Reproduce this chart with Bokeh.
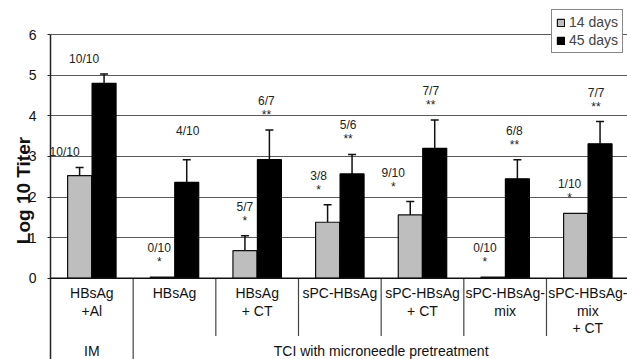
from bokeh.plotting import figure
from bokeh.models import (Range1d, FixedTicker, Span, Legend, LegendItem,
                          ColumnDataSource, Whisker, TeeHead)
from bokeh.core.properties import value
from bokeh.embed import file_html
from bokeh.resources import INLINE

# ---- data ----
categories = ["HBsAg\n+Al", "HBsAg", "HBsAg\n+ CT", "sPC-HBsAg", "sPC-HBsAg\n+ CT",
              "sPC-HBsAg-\nmix", "sPC-HBsAg-\nmix\n+ CT"]
titer_14 = [2.53, 0.03, 0.68, 1.38, 1.56, 0.03, 1.60]
err_14 = [0.20, 0.0, 0.37, 0.43, 0.33, 0.0, 0.0]
titer_45 = [4.80, 2.36, 2.92, 2.57, 3.20, 2.45, 3.31]
err_45 = [0.23, 0.56, 0.73, 0.48, 0.70, 0.47, 0.55]
resp_14 = ["10/10", "0/10", "5/7", "3/8", "9/10", "0/10", "1/10"]
stars_14 = ["", "*", "*", "*", "*", "*", "*"]
resp_45 = ["10/10", "4/10", "6/7", "5/6", "7/7", "6/8", "7/7"]
stars_45 = ["", " ", "**", "**", "**", "**", "**"]
y_ticks = [0, 1, 2, 3, 4, 5, 6]
groups = ["IM", "TCI with microneedle pretreatment"]

# label horizontal nudges (px), as placed in the original
dx_14 = [-15, -3, 0, -9, -17, -8, -6]
dx_45 = [-20, 1, -3, -4, -4, -3, -4]

FONT = "Liberation Sans"
GRAY = "#bebebe"
n = len(categories)
xc = [i + 0.5 for i in range(n)]
off = 0.148
bw = 0.29

p = figure(width=627, height=359, x_range=Range1d(0, 6.98), y_range=Range1d(-2.0, 6.84),
           output_backend="svg", toolbar_location=None, x_axis_type=None,
           min_border_left=50, min_border_right=0, min_border_top=0, min_border_bottom=0)
p.outline_line_color = None
p.background_fill_color = "white"
p.border_fill_color = "white"

# y axis
ax = p.yaxis[0]
ax.ticker = FixedTicker(ticks=y_ticks)
ax.bounds = (-2.0, 6)
ax.major_tick_out = 3
ax.major_tick_in = 0
ax.minor_tick_line_color = None
ax.axis_line_color = "#222222"
ax.axis_line_width = 1.5
ax.major_tick_line_color = "#222222"
ax.major_label_text_font = FONT
ax.major_label_text_font_size = "14px"
ax.major_label_text_color = "#111111"
ax.major_label_standoff = 11
ax.axis_label = "Log 10 Titer" + "\u00a0" * 4
ax.axis_label_text_font = FONT
ax.axis_label_text_font_size = "19px"
ax.axis_label_text_font_style = "bold"
ax.axis_label_text_color = "#111111"
ax.axis_label_standoff = -8

p.xgrid.visible = False
p.ygrid.ticker = FixedTicker(ticks=y_ticks[1:])
p.ygrid.grid_line_color = "#5a5a5a"
p.ygrid.grid_line_width = 1

p.add_layout(Span(location=0, dimension="width", line_color="#111111", line_width=1.5))

# dividers below the axis
p.segment(x0=[1], y0=[0], x1=[1], y1=[-2.0], line_color="#444444", line_width=1.2)
p.segment(x0=list(range(2, n)), y0=[0] * (n - 2), x1=list(range(2, n)), y1=[-1.42] * (n - 2),
          line_color="#444444", line_width=1.2)

# bars
src14 = ColumnDataSource(dict(x=[v - off for v in xc], top=titer_14,
                              up=[t + e for t, e in zip(titer_14, err_14)]))
src45 = ColumnDataSource(dict(x=[v + off for v in xc], top=titer_45,
                              up=[t + e for t, e in zip(titer_45, err_45)]))
r14 = p.vbar(x="x", top="top", bottom=0, width=bw, source=src14,
             fill_color=GRAY, line_color="#111111", line_width=1.2)
r45 = p.vbar(x="x", top="top", bottom=0, width=bw, source=src45,
             fill_color="#000000", line_color="#000000", line_width=1.2)

# error bars (upper only)
eb14 = ColumnDataSource(dict(x=[v - off for v, e in zip(xc, err_14) if e > 0],
                             lo=[t for t, e in zip(titer_14, err_14) if e > 0],
                             hi=[t + e for t, e in zip(titer_14, err_14) if e > 0]))
eb45 = ColumnDataSource(dict(x=[v + off for v in xc], lo=titer_45,
                             hi=[t + e for t, e in zip(titer_45, err_45)]))
for s in (eb14, eb45):
    w = Whisker(base="x", lower="lo", upper="hi", source=s, dimension="height",
                line_color="#111111", line_width=1.5, lower_head=None,
                upper_head=TeeHead(size=8, line_color="#111111", line_width=1.5))
    p.add_layout(w)

# response labels
def lab(fr, st):
    return [f + ("\n" + s if s else "") for f, s in zip(fr, st)]

lab14 = ColumnDataSource(dict(x=[v - off for v in xc], y=src14.data["up"],
                              t=lab(resp_14, stars_14), dx=dx_14))
lab45 = ColumnDataSource(dict(x=[v + off for v in xc], y=src45.data["up"],
                              t=lab(resp_45, stars_45), dx=dx_45))
for s in (lab14, lab45):
    p.text(x="x", y="y", text="t", source=s, x_offset="dx", y_offset=-8,
           text_align="center", text_baseline="bottom", text_font=value(FONT),
           text_font_size="12px", text_line_height=1.0, text_color="#222222")

# category labels
p.text(x=xc, y=[0] * n, text=categories, y_offset=7, text_align="center",
       text_baseline="top", text_font=value(FONT), text_font_size="14px",
       text_line_height=1.08, text_color="#111111")

# group labels
p.text(x=[0.5, 4.0], y=[-1.78, -1.78], text=groups, text_align="center",
       text_baseline="middle", text_font=value(FONT), text_font_size="14px",
       text_color="#111111")

legend = Legend(items=[LegendItem(label="14 days", renderers=[r14]),
                       LegendItem(label="45 days", renderers=[r45])],
                location=(501, 306), orientation="vertical",
                glyph_width=9, glyph_height=9, label_standoff=4,
                label_text_font=FONT, label_text_font_size="14px", label_height=15,
                spacing=2, padding=4, margin=0,
                border_line_color="#111111", border_line_width=1.2,
                background_fill_color="white", background_fill_alpha=1.0)
p.add_layout(legend)

open("out.html", "w").write(file_html(p, INLINE))
